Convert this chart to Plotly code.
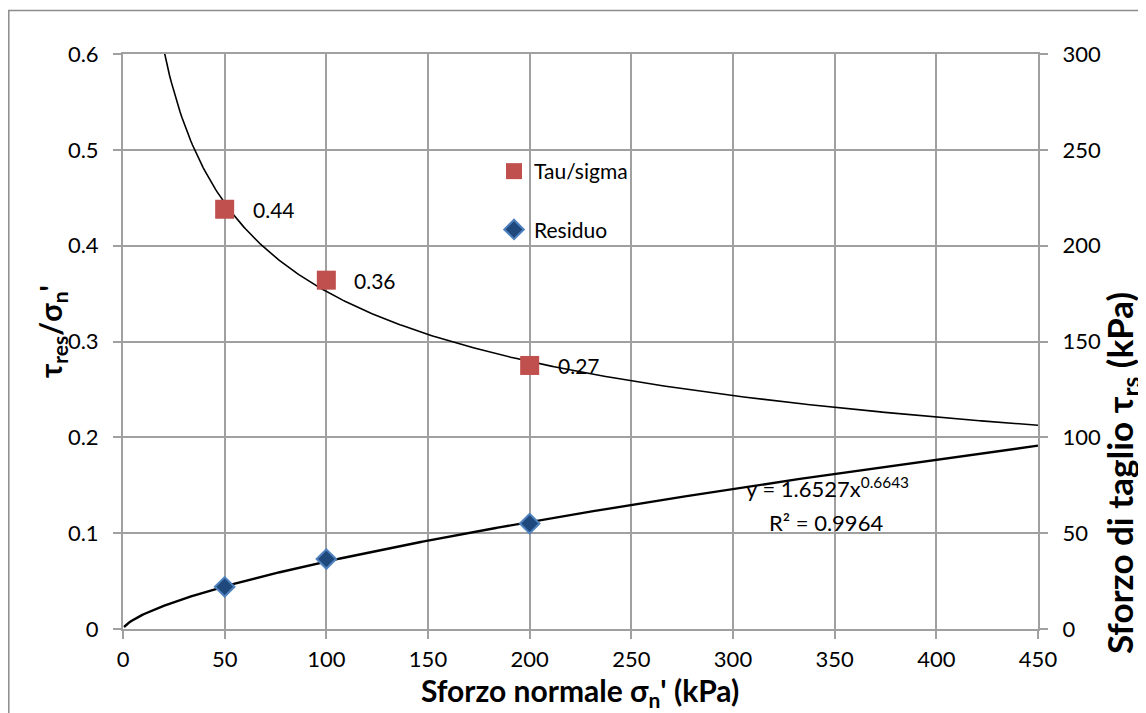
import numpy as np
import plotly.graph_objects as go

# ---- data ----
sigma_n = [50, 100, 200]                 # kPa
tau_sigma = [0.438, 0.364, 0.275]        # tau_res / sigma_n'
tau_sigma_labels = ["0.44", "0.36", "0.27"]
residuo = [22.0, 36.5, 55.0]             # kPa
fit_a = 1.6527
fit_b = 0.6643
fit_r2 = 0.9964

x_ticks = [0, 50, 100, 150, 200, 250, 300, 350, 400, 450]

FONT = "Lato"
GRID = "#a0a0a0"

# figure geometry (page has an 8px body margin)
W, H = 1138, 705
L, T, PW, PH = 115, 46, 915, 575


def px(xp):   # page x -> paper x
    return (xp - 8 - L) / PW


def py(yp):   # page y -> paper y
    return 1 - (yp - 8 - T) / PH


x_fit = np.linspace(0.5, 450, 500)
y_fit_tau = fit_a * x_fit ** fit_b
x_fit2 = np.linspace(15, 450, 500)
y_fit_ratio = fit_a * x_fit2 ** (fit_b - 1)

fig = go.Figure()

fig.add_trace(go.Scatter(x=x_fit2, y=y_fit_ratio, mode="lines",
                         line=dict(color="black", width=1.6),
                         showlegend=False, hoverinfo="skip"))
fig.add_trace(go.Scatter(x=x_fit, y=y_fit_tau, mode="lines", yaxis="y2",
                         line=dict(color="black", width=2.4),
                         showlegend=False, hoverinfo="skip"))

fig.add_trace(go.Scatter(x=sigma_n, y=tau_sigma, mode="markers", name="Tau/sigma",
                         legendgroup="a",
                         marker=dict(symbol="square", size=19, color="#c0504d")))
fig.add_trace(go.Scatter(x=sigma_n, y=residuo, mode="markers", name="Residuo",
                         yaxis="y2", legendgroup="b",
                         marker=dict(symbol="diamond", size=15, color="#1f497d",
                                     line=dict(color="#4f81bd", width=2))))

for xv, yv, lab in zip(sigma_n, tau_sigma, tau_sigma_labels):
    fig.add_annotation(x=xv, y=yv, text=lab, showarrow=False, xanchor="left",
                       xshift=26, font=dict(family=FONT, size=21, color="black"))

# trendline equation
fig.add_annotation(x=px(827), y=py(504), xref="paper", yref="paper", xanchor="center",
                   text=f"y = {fit_a}x<sup>{fit_b}</sup>",
                   showarrow=False, font=dict(family=FONT, size=22, color="black"))
fig.add_annotation(x=px(826), y=py(538), xref="paper", yref="paper", xanchor="center",
                   text=f"R² = {fit_r2}",
                   showarrow=False, font=dict(family=FONT, size=22, color="black"))

# axis titles
fig.add_annotation(x=px(580), y=py(692), xref="paper", yref="paper",
                   xanchor="center", yanchor="middle", showarrow=False,
                   text="Sforzo normale σ<sub>n</sub>' (kPa)",
                   font=dict(family=FONT, size=30, color="black", weight="bold"))
fig.add_annotation(x=px(52), y=py(332), xref="paper", yref="paper", textangle=-90,
                   xanchor="center", yanchor="middle", showarrow=False,
                   text="τ<sub>res</sub>/σ<sub>n</sub>'",
                   font=dict(family=FONT, size=30, color="black", weight="bold"))
fig.add_annotation(x=px(1121), y=py(473), xref="paper", yref="paper", textangle=-90,
                   xanchor="center", yanchor="middle", showarrow=False,
                   text="Sforzo di taglio τ<sub>rs</sub> (kPa)",
                   font=dict(family=FONT, size=35, color="black", weight="bold"))

# chart border (Excel chart area)
fig.add_shape(type="rect", xref="paper", yref="paper",
              x0=px(8.8), x1=px(1170), y0=py(740), y1=py(10.5),
              line=dict(color="#8c8c8c", width=1.5))

axis_common = dict(showline=True, linecolor=GRID, linewidth=2, zeroline=False,
                   ticks="outside", ticklen=8, tickcolor=GRID, tickwidth=2,
                   tickfont=dict(family=FONT, size=22, color="black"))

fig.update_layout(
    width=W, height=H,
    margin=dict(l=L, r=W - L - PW, t=T, b=H - T - PH, autoexpand=False),
    paper_bgcolor="white", plot_bgcolor="white",
    font=dict(family=FONT, size=20, color="black"),
    showlegend=True,
    legend=dict(x=px(494), y=py(151), xanchor="left", yanchor="top",
                bgcolor="rgba(0,0,0,0)", tracegroupgap=28,
                font=dict(family=FONT, size=21), itemwidth=30),
    xaxis=dict(range=[0, 450], tickvals=x_ticks, showgrid=True, gridcolor=GRID,
               gridwidth=2, mirror=True, ticklabelstandoff=2, **axis_common),
    yaxis=dict(range=[0, 0.6], dtick=0.1, showgrid=True, gridcolor=GRID, gridwidth=2,
               ticklabelstandoff=10, **axis_common),
    yaxis2=dict(range=[0, 300], dtick=50, overlaying="y", side="right", showgrid=False,
                ticklabelstandoff=10, **axis_common),
)

fig.write_html("out.html")
